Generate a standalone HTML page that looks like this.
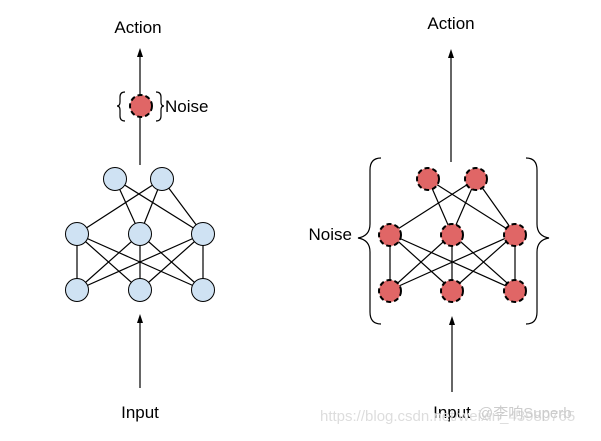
<!DOCTYPE html>
<html><head><meta charset="utf-8"><style>
html,body{margin:0;padding:0;background:#fff;width:601px;height:441px;overflow:hidden}
</style></head><body>
<svg width="601" height="441" viewBox="0 0 601 441" xmlns="http://www.w3.org/2000/svg" font-family="Liberation Sans, Noto Sans CJK SC, sans-serif">
<g stroke="#000" stroke-width="1.2" fill="none">
<line x1="140" y1="388" x2="140" y2="322"/>
<line x1="140" y1="165" x2="140" y2="56"/>
<path d="M115,179L140,234M115,179L203,234M162,179L77,234M162,179L140,234M162,179L203,234
M77,234L77,290M77,234L140,290M77,234L203,290M140,234L77,290M140,234L140,290M140,234L203,290M203,234L77,290M203,234L140,290M203,234L203,290"/>
<line x1="452" y1="392" x2="452" y2="324"/>
<line x1="451" y1="162" x2="451" y2="56"/>
<path d="M428,179L452,234M428,179L515,234M476,179L390,234M476,179L452,234M476,179L515,234
M390,234L390,290M390,234L452,290M390,234L515,290M452,234L390,290M452,234L452,290M452,234L515,290M515,234L390,290M515,234L452,290M515,234L515,290"/>
<path d="M125,92 Q120,92 120,97 L120,102 Q120,106 117,106 Q120,106 120,110 L120,116 Q120,121 125,121"/>
<path d="M156,92 Q161,92 161,97 L161,102 Q161,106 164,106 Q161,106 161,110 L161,116 Q161,121 156,121"/>
<path d="M381,158 Q370,158 370,170 L370,224 Q370,236 358,238 Q370,240 370,252 L370,312 Q370,324 381,324"/>
<path d="M526,158 Q537,158 537,170 L537,224 Q537,236 549,238 Q537,240 537,252 L537,312 Q537,324 526,324"/>
</g>
<g fill="#000">
<path d="M137,57 L140,48 L143,57 Z"/>
<path d="M137,323 L140,314 L143,323 Z"/>
<path d="M449,325 L452,316 L455,325 Z"/>
<path d="M448,58 L451,49 L454,58 Z"/>
</g>
<g fill="#cfe2f3" stroke="#000" stroke-width="1">
<circle cx="115" cy="179" r="11.5"/><circle cx="162" cy="179" r="11.5"/>
<circle cx="77" cy="234" r="11.5"/><circle cx="140" cy="234" r="11.5"/><circle cx="203" cy="234" r="11.5"/>
<circle cx="77" cy="290" r="11.5"/><circle cx="140" cy="290" r="11.5"/><circle cx="203" cy="290" r="11.5"/>
</g>
<g fill="#e06666" stroke="#000" stroke-width="2" stroke-dasharray="5,3">
<circle cx="141" cy="106" r="11"/>
<circle cx="428" cy="179" r="11"/><circle cx="476" cy="179" r="11"/>
<circle cx="390" cy="235" r="11"/><circle cx="452" cy="235" r="11"/><circle cx="515" cy="235" r="11"/>
<circle cx="390" cy="291" r="11"/><circle cx="452" cy="291" r="11"/><circle cx="515" cy="291" r="11"/>
</g>
<g font-size="17" fill="#000">
<text x="138" y="33" text-anchor="middle">Action</text>
<text x="451" y="29" text-anchor="middle">Action</text>
<text x="165" y="112">Noise</text>
<text x="352" y="240" text-anchor="end">Noise</text>
<text x="140" y="418" text-anchor="middle">Input</text>
<text x="452" y="418" text-anchor="middle">Input</text>
</g>
<text x="320" y="421" font-size="15" fill="#ddd">https://blog.csdn.net/weixin_43980765</text>
<text x="478" y="418" font-size="15" fill="#ccc">@李响Superb</text>
</svg>
</body></html>
